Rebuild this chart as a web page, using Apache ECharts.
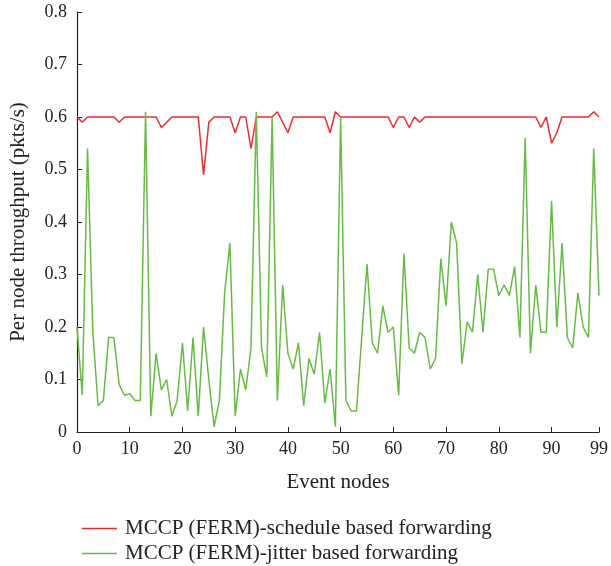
<!DOCTYPE html>
<html>
<head>
<meta charset="utf-8">
<script src="https://cdn.jsdelivr.net/npm/echarts@6/dist/echarts.min.js"></script>
<style>html,body{margin:0;padding:0;background:#fff}#c{width:611px;height:566px}</style>
</head>
<body>
<div id="c"></div>
<script>
const nodes = Array.from({length: 100}, (_, i) => String(i));
const scheduleBased = [
  0.60,0.59,0.60,0.60,0.60,0.60,0.60,0.60,0.59,0.60,
  0.60,0.60,0.60,0.60,0.60,0.60,0.58,0.59,0.60,0.60,
  0.60,0.60,0.60,0.60,0.49,0.59,0.60,0.60,0.60,0.60,
  0.57,0.60,0.60,0.54,0.60,0.60,0.60,0.60,0.61,0.59,
  0.57,0.60,0.60,0.60,0.60,0.60,0.60,0.60,0.57,0.61,
  0.60,0.60,0.60,0.60,0.60,0.60,0.60,0.60,0.60,0.60,
  0.58,0.60,0.60,0.58,0.60,0.59,0.60,0.60,0.60,0.60,
  0.60,0.60,0.60,0.60,0.60,0.60,0.60,0.60,0.60,0.60,
  0.60,0.60,0.60,0.60,0.60,0.60,0.60,0.60,0.58,0.60,
  0.55,0.57,0.60,0.60,0.60,0.60,0.60,0.60,0.61,0.60
];
const jitterBased = [
  0.20,0.07,0.54,0.19,0.05,0.06,0.18,0.18,0.09,0.07,
  0.073,0.06,0.06,0.61,0.03,0.15,0.08,0.10,0.03,0.06,
  0.17,0.04,0.18,0.03,0.20,0.10,0.01,0.06,0.265,0.36,
  0.03,0.12,0.08,0.16,0.61,0.16,0.105,0.60,0.06,0.28,
  0.15,0.12,0.17,0.05,0.14,0.11,0.19,0.055,0.12,0.01,
  0.60,0.06,0.04,0.04,0.18,0.32,0.17,0.15,0.24,0.19,
  0.20,0.07,0.34,0.16,0.15,0.19,0.18,0.12,0.14,0.33,
  0.24,0.40,0.36,0.13,0.21,0.19,0.30,0.19,0.31,0.31,
  0.26,0.28,0.26,0.315,0.18,0.56,0.15,0.28,0.19,0.19,
  0.44,0.20,0.36,0.18,0.16,0.265,0.20,0.18,0.54,0.26
];
const seriesNames = ['MCCP (FERM)-schedule based forwarding', 'MCCP (FERM)-jitter based forwarding'];
const yTicks = [0, 0.1, 0.2, 0.3, 0.4, 0.5, 0.6, 0.7, 0.8];

const font = '"Liberation Serif", "DejaVu Serif", serif';
const showTick = (idx) => idx % 10 === 0 || idx === 99;
const chart = echarts.init(document.getElementById('c'), null, {renderer: 'canvas'});
chart.setOption({
  animation: false,
  grid: {left: 77, right: 9, top: 12, bottom: 134, containLabel: false},
  legend: {
    orient: 'vertical', left: 77, top: 513, height: 80, itemWidth: 35, itemHeight: 1.5, itemGap: 4,
    icon: 'rect',
    textStyle: {fontFamily: font, fontSize: 21, lineHeight: 21, color: '#222', padding: [0, 0, 0, 3]},
    data: seriesNames
  },
  xAxis: {
    type: 'category', data: nodes, boundaryGap: false,
    name: 'Event nodes', nameLocation: 'middle', nameGap: 40,
    nameTextStyle: {fontFamily: font, fontSize: 21, color: '#222'},
    axisLine: {lineStyle: {color: '#222', width: 1.2}},
    axisTick: {inside: true, length: 5, interval: showTick, lineStyle: {color: '#222'}},
    axisLabel: {interval: showTick, fontFamily: font, fontSize: 18, color: '#222', margin: 8},
    splitLine: {show: false}
  },
  yAxis: {
    type: 'value', min: yTicks[0], max: yTicks[yTicks.length - 1], interval: 0.1,
    name: 'Per node throughput (pkts/s)', nameLocation: 'middle', nameGap: 48,
    nameTextStyle: {fontFamily: font, fontSize: 21, color: '#222'},
    axisLine: {show: true, lineStyle: {color: '#222', width: 1.2}},
    axisTick: {show: true, inside: true, length: 5, lineStyle: {color: '#222'}},
    axisLabel: {fontFamily: font, fontSize: 18, color: '#222', margin: 10,
      formatter: v => String(Math.round(v * 10) / 10)},
    splitLine: {show: false}
  },
  series: [
    {name: seriesNames[0], type: 'line', data: scheduleBased, symbol: 'none',
      lineStyle: {color: '#ec2a2e', width: 1.5}, itemStyle: {color: '#ec2a2e'}},
    {name: seriesNames[1], type: 'line', data: jitterBased, symbol: 'none',
      lineStyle: {color: '#66bb44', width: 1.5}, itemStyle: {color: '#66bb44'}}
  ]
});
</script>
</body>
</html>
